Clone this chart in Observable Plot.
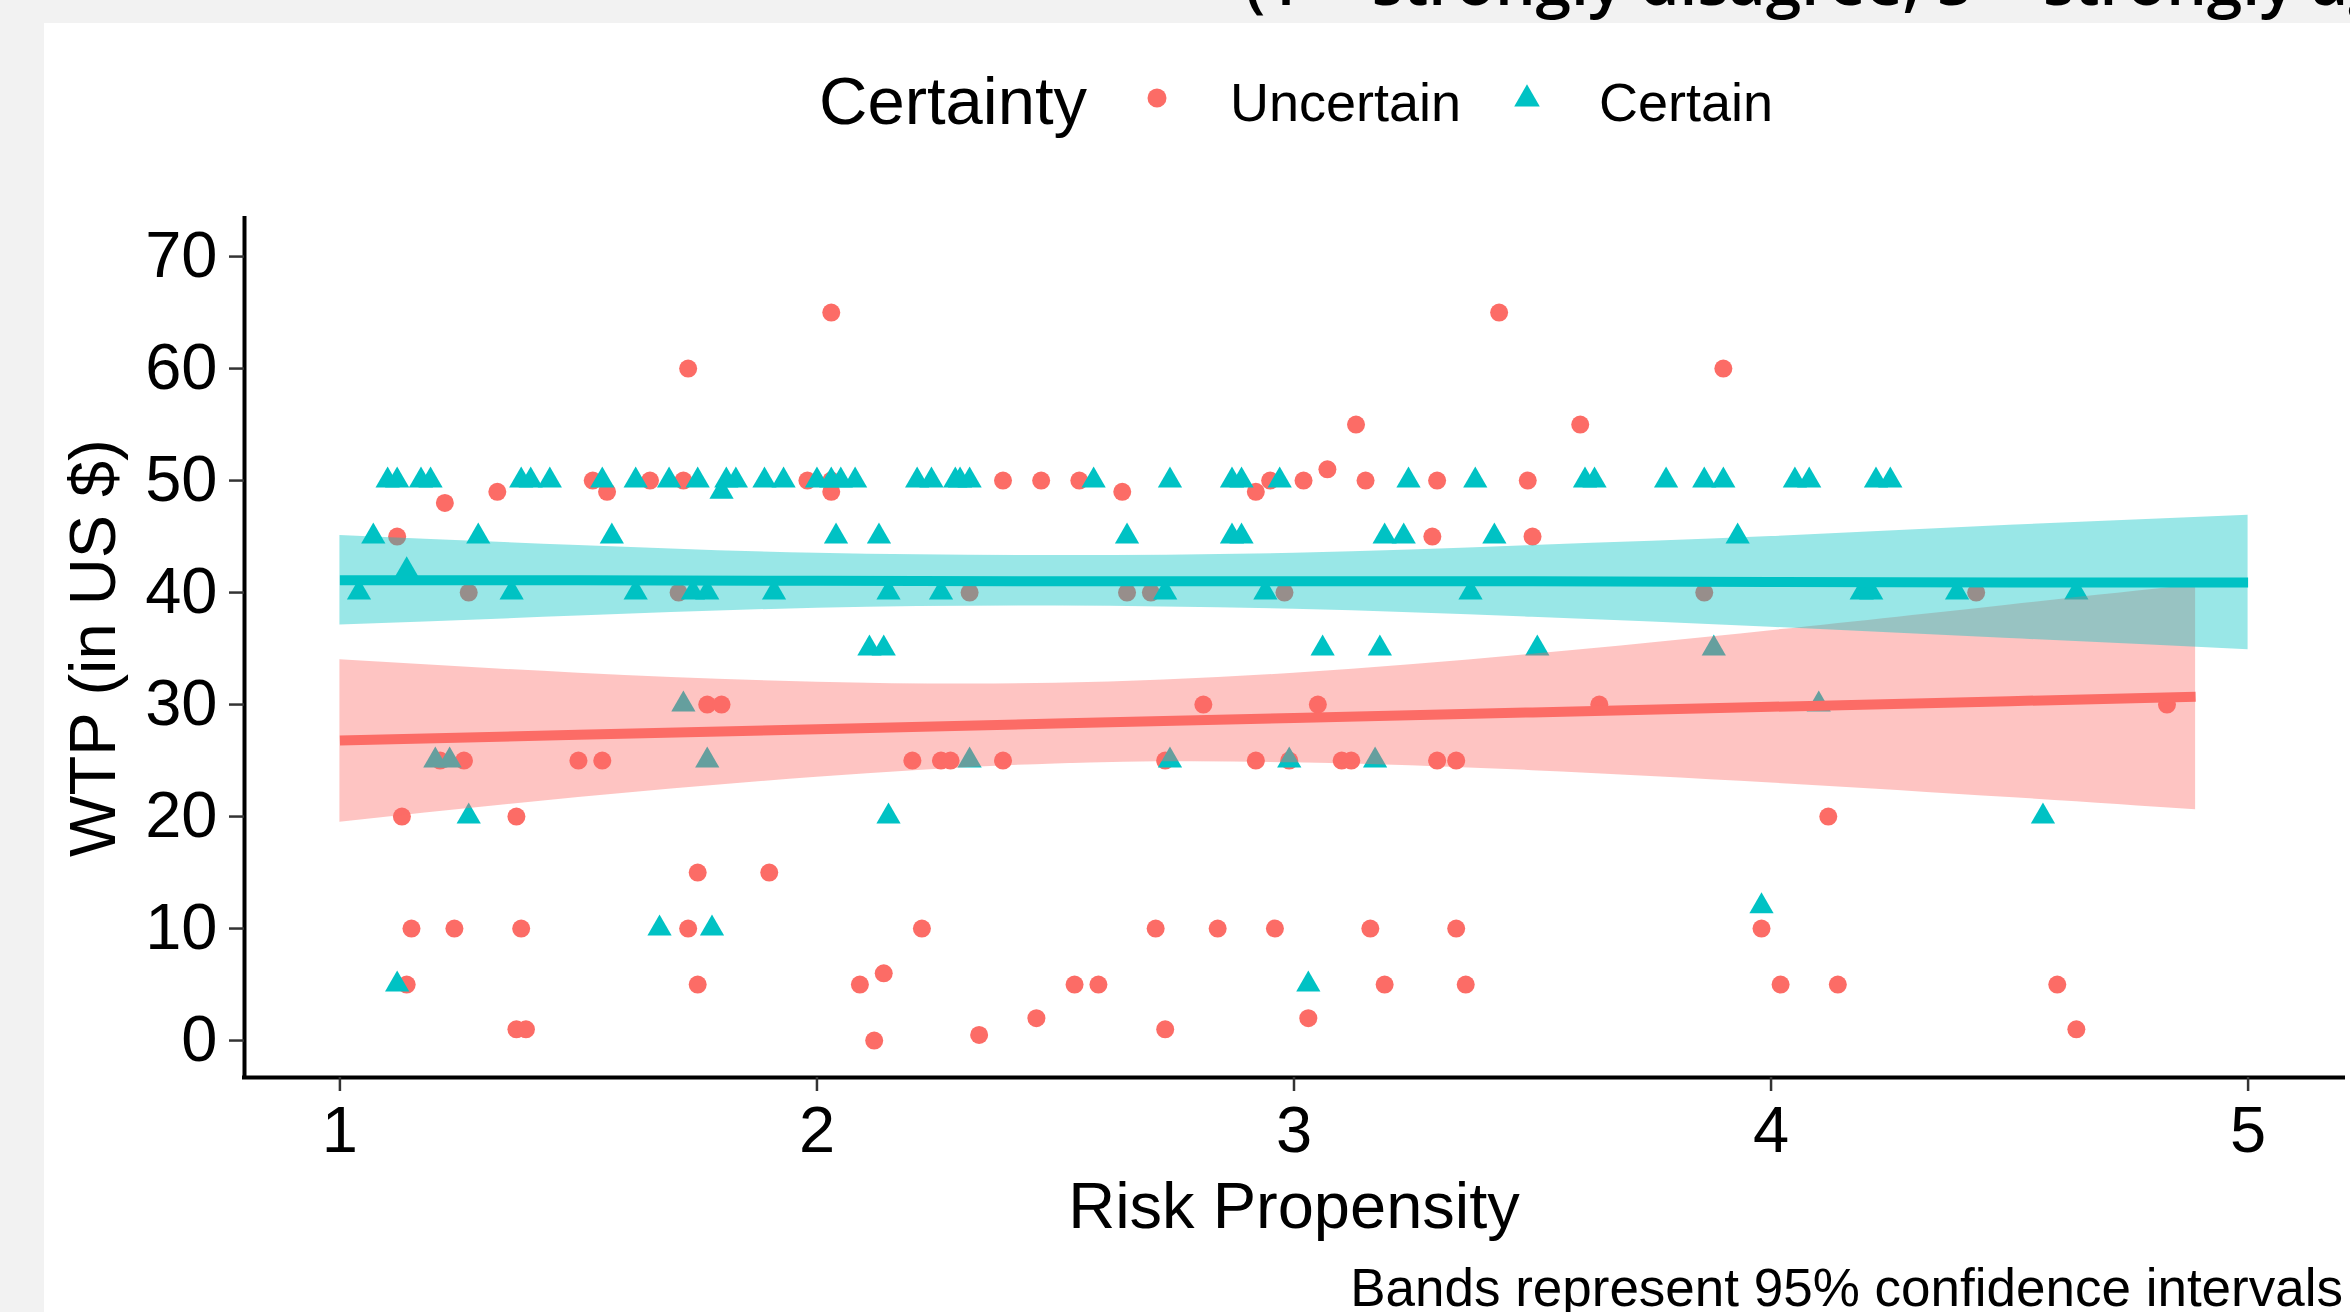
<!DOCTYPE html>
<html>
<head>
<meta charset="utf-8">
<script src="https://cdn.jsdelivr.net/npm/d3@7"></script>
<script src="https://cdn.jsdelivr.net/npm/@observablehq/plot@0.6"></script>
<style>
html, body { margin: 0; padding: 0; }
body { width: 2350px; height: 1312px; overflow: hidden; background: #f2f2f2; font-family: "Liberation Sans", Arial, sans-serif; }
#strip { height: 23px; overflow: hidden; }
#strip svg, #legend svg, #chart svg { display: block; }
#main { margin-left: 44px; width: 2306px; height: 1289px; background: #ffffff; }
#legend { height: 127px; }
#caption { position: relative; height: 62px; }
#caption span { position: absolute; right: 7px; top: 11px; font-size: 53px; line-height: 1; color: #000; white-space: nowrap; }
</style>
</head>
<body>
<div id="strip"></div>
<div id="main">
  <div id="legend"></div>
  <div id="chart"></div>
  <div id="caption"><span id="captionText"></span></div>
</div>
<script>
// ---------- text ----------
const titleFragment = "(1 = strongly disagree, 5 = strongly agree)";
const legendTitle = "Certainty";
const groups = ["Uncertain", "Certain"];
const xLabel = "Risk Propensity";
const yLabel = "WTP (in US $)";
const captionText = "Bands represent 95% confidence intervals";

// ---------- scales / ticks ----------
const xDomain = [0.8, 5.2];
const yDomain = [-3.3, 73.4];
const xTicks = [1, 2, 3, 4, 5];
const yTicks = [0, 10, 20, 30, 40, 50, 60, 70];
const colors = ["#FC6C66", "#00C2C4"];

// ---------- observations: [risk propensity, WTP] ----------
const uncertainPoints = [
  [2.03, 65], [3.43, 65],
  [1.73, 60], [3.90, 60],
  [3.13, 55], [3.60, 55],
  [3.07, 51],
  [1.53, 50], [1.65, 50], [1.72, 50], [1.98, 50], [2.03, 50], [2.39, 50], [2.47, 50],
  [2.55, 50], [2.95, 50], [3.02, 50], [3.15, 50], [3.30, 50], [3.49, 50],
  [1.33, 49], [1.56, 49], [2.03, 49], [2.64, 49], [2.92, 49],
  [1.22, 48],
  [1.12, 45], [3.29, 45], [3.50, 45],
  [1.27, 40], [1.71, 40], [2.32, 40], [2.65, 40], [2.70, 40], [2.98, 40], [3.86, 40], [4.43, 40],
  [1.77, 30], [1.80, 30], [2.81, 30], [3.05, 30], [3.64, 30], [4.83, 30],
  [1.21, 25], [1.26, 25], [1.50, 25], [1.55, 25], [2.20, 25], [2.26, 25], [2.28, 25], [2.39, 25],
  [2.73, 25], [2.92, 25], [2.99, 25], [3.10, 25], [3.12, 25], [3.30, 25], [3.34, 25],
  [1.13, 20], [1.37, 20], [4.12, 20],
  [1.75, 15], [1.90, 15],
  [1.15, 10], [1.24, 10], [1.38, 10], [1.73, 10], [2.22, 10], [2.71, 10], [2.84, 10],
  [2.96, 10], [3.16, 10], [3.34, 10], [3.98, 10],
  [2.14, 6],
  [1.14, 5], [1.75, 5], [2.09, 5], [2.54, 5], [2.59, 5], [3.19, 5], [3.36, 5], [4.02, 5], [4.14, 5], [4.60, 5],
  [2.46, 2], [3.03, 2],
  [1.37, 1], [1.39, 1], [2.73, 1], [4.64, 1],
  [2.34, 0.5],
  [2.12, 0]
];
const certainPoints = [
  [1.10, 50], [1.12, 50], [1.17, 50], [1.19, 50], [1.38, 50], [1.40, 50], [1.44, 50], [1.55, 50],
  [1.62, 50], [1.69, 50], [1.75, 50], [1.81, 50], [1.83, 50], [1.89, 50], [1.93, 50], [2.00, 50],
  [2.03, 50], [2.05, 50], [2.08, 50], [2.21, 50], [2.24, 50], [2.29, 50], [2.30, 50], [2.32, 50],
  [2.58, 50], [2.74, 50], [2.87, 50], [2.89, 50], [2.97, 50], [3.24, 50], [3.38, 50], [3.61, 50],
  [3.63, 50], [3.78, 50], [3.86, 50], [3.90, 50], [4.05, 50], [4.08, 50], [4.22, 50], [4.25, 50],
  [1.80, 49],
  [1.07, 45], [1.29, 45], [1.57, 45], [2.04, 45], [2.13, 45], [2.65, 45], [2.87, 45], [2.89, 45],
  [3.19, 45], [3.23, 45], [3.42, 45], [3.93, 45],
  [1.14, 42],
  [1.04, 40], [1.36, 40], [1.62, 40], [1.74, 40], [1.77, 40], [1.91, 40], [2.15, 40], [2.26, 40],
  [2.73, 40], [2.94, 40], [3.37, 40], [4.19, 40], [4.21, 40], [4.39, 40], [4.64, 40],
  [2.11, 35], [2.14, 35], [3.06, 35], [3.18, 35], [3.51, 35], [3.88, 35],
  [1.72, 30], [4.10, 30],
  [1.20, 25], [1.23, 25], [1.77, 25], [2.32, 25], [2.74, 25], [2.99, 25], [3.17, 25],
  [1.27, 20], [2.15, 20], [4.57, 20],
  [3.98, 12],
  [1.67, 10], [1.78, 10],
  [1.12, 5], [3.03, 5]
];

// ---------- fitted lines and 95% bands ----------
const uncertainBandX = [1, 1.5, 2, 2.5, 3, 3.5, 4, 4.5, 4.89];
const uncertainFit   = [26.8, 27.3, 27.8, 28.3, 28.8, 29.3, 29.8, 30.3, 30.7];
const uncertainLow   = [19.5, 21.7, 23.5, 24.7, 24.8, 24.1, 23.0, 21.7, 20.6];
const uncertainHigh  = [34.0, 32.8, 32.0, 31.9, 32.8, 34.5, 36.6, 38.9, 40.7];

const certainBandX = [1, 1.5, 2, 2.5, 3, 3.5, 4, 4.5, 5];
const certainFit   = [41.1, 41.1, 41.05, 41.0, 41.0, 41.0, 40.95, 40.9, 40.9];
const certainLow   = [37.1, 37.9, 38.6, 38.8, 38.5, 37.8, 36.9, 35.9, 34.9];
const certainHigh  = [45.1, 44.2, 43.5, 43.3, 43.5, 44.2, 45.0, 46.0, 46.9];

// ---------- tables ----------
const points = [
  ...uncertainPoints.map(([risk, wtp]) => ({risk, wtp, certainty: groups[0]})),
  ...certainPoints.map(([risk, wtp]) => ({risk, wtp, certainty: groups[1]}))
];
const bandTable = (xs, fit, lo, hi) => xs.map((x, i) => ({x, fit: fit[i], lo: lo[i], hi: hi[i]}));
const uncertainBand = bandTable(uncertainBandX, uncertainFit, uncertainLow, uncertainHigh);
const certainBand = bandTable(certainBandX, certainFit, certainLow, certainHigh);

// ---------- top strip (cut-off heading) ----------
const strip = d3.select("#strip").append("svg").attr("width", 2350).attr("height", 23);
strip.append("text")
  .attr("x", 1245).attr("y", 5)
  .attr("font-family", "'Open Sans', sans-serif")
  .attr("font-weight", 600)
  .attr("font-size", 64)
  .attr("fill", "#000")
  .text(titleFragment);

// ---------- legend ----------
const leg = d3.select("#legend").append("svg").attr("width", 2306).attr("height", 127)
  .attr("font-family", "'Liberation Sans', Arial, sans-serif");
leg.append("text").attr("x", 775).attr("y", 101).attr("font-size", 67).attr("fill", "#000").text(legendTitle);
leg.append("circle").attr("cx", 1113).attr("cy", 75).attr("r", 9.5).attr("fill", colors[0]);
leg.append("text").attr("x", 1186).attr("y", 98).attr("font-size", 54).attr("fill", "#000").text(groups[0]);
leg.append("path").attr("transform", "translate(1483,76)")
  .attr("d", d3.symbol(d3.symbolTriangle, Math.PI * 9.5 * 9.5)()).attr("fill", colors[1]);
leg.append("text").attr("x", 1555).attr("y", 98).attr("font-size", 54).attr("fill", "#000").text(groups[1]);

// ---------- chart ----------
const chart = Plot.plot({
  width: 2306,
  height: 1100,
  marginLeft: 200,
  marginRight: 7,
  marginTop: 68,
  marginBottom: 173,
  style: {background: "transparent", fontFamily: "'Liberation Sans', Arial, sans-serif", overflow: "visible", maxWidth: "none"},
  x: {domain: xDomain},
  y: {domain: yDomain},
  color: {domain: groups, range: colors},
  symbol: {domain: groups, range: ["circle", "triangle"]},
  marks: [
    Plot.dot(points, {x: "risk", y: "wtp", fill: "certainty", symbol: "certainty", r: 9, stroke: "none"}),
    Plot.areaY(uncertainBand, {x: "x", y1: "lo", y2: "hi", fill: colors[0], fillOpacity: 0.4, curve: "natural"}),
    Plot.lineY(uncertainBand, {x: "x", y: "fit", stroke: colors[0], strokeWidth: 10, strokeLinecap: "butt"}),
    Plot.areaY(certainBand, {x: "x", y1: "lo", y2: "hi", fill: colors[1], fillOpacity: 0.4, curve: "natural"}),
    Plot.lineY(certainBand, {x: "x", y: "fit", stroke: colors[1], strokeWidth: 10, strokeLinecap: "butt"}),
    Plot.ruleX([xDomain[0]], {stroke: "#000", strokeWidth: 4, strokeLinecap: "square"}),
    Plot.ruleY([yDomain[0]], {stroke: "#000", strokeWidth: 4, strokeLinecap: "square"}),
    Plot.axisY({
      ticks: yTicks, tickFormat: d3.format("d"), tickSize: 15, tickPadding: 12, fontSize: 65,
      stroke: "#333", strokeWidth: 2.5, fill: "#000",
      label: yLabel, labelAnchor: "center", labelOffset: 176, labelArrow: "none"
    }),
    Plot.axisX({
      ticks: xTicks, tickFormat: d3.format("d"), tickSize: 14, tickPadding: 14, fontSize: 65,
      stroke: "#333", strokeWidth: 2.5, fill: "#000",
      label: xLabel, labelAnchor: "center", labelOffset: 150, labelArrow: "none"
    })
  ]
});
document.getElementById("chart").appendChild(chart);
document.getElementById("captionText").textContent = captionText;
</script>
</body>
</html>
